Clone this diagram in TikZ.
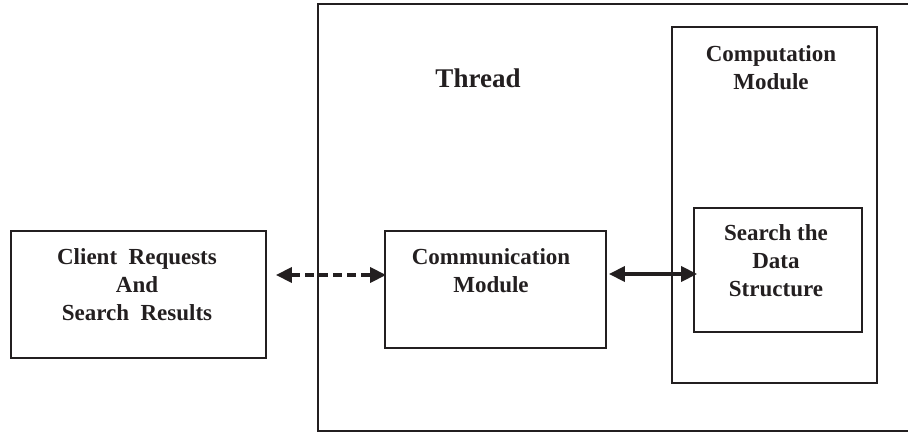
\documentclass[tikz,border=0pt]{standalone}
\usepackage{fontspec}
\setmainfont{Liberation Serif}
\usetikzlibrary{arrows.meta}

\definecolor{ink}{HTML}{231F20}

\tikzset{
  box/.style = {draw=ink, line width=1.8pt, inner sep=0pt, rectangle},
  title/.style = {text=ink, font=\bfseries\fontsize{23}{28}\selectfont, align=center, inner sep=0pt},
  link/.style = {draw=ink, line width=3.5pt,
                 {Triangle[length=16pt,width=15pt]}-{Triangle[length=16pt,width=15pt]}},
  dashlink/.style = {link, dash pattern=on 9pt off 5pt}
}

\begin{document}
\begin{tikzpicture}[x=1pt, y=-1pt]
  \useasboundingbox (0,0) rectangle (908,433);

  % outer thread box (right edge runs off the page)
  \node (thread) [box, minimum width=597pt, minimum height=427pt] at (616.5,217.5) {};
  \node (threadtext) [title, font=\bfseries\fontsize{27}{32}\selectfont] at (478,78) {Thread};

  % computation module with the search box inside
  \node (comp) [box, minimum width=205pt, minimum height=356pt] at (774.5,205) {};
  \node (comptext) [title] at (771,68) {Computation\\Module};
  \node (search) [box, minimum width=168pt, minimum height=124pt] at (778,270) {};
  \node (searchtext) [title] at (776,261) {Search the\\Data\\Structure};

  % client side
  \node (client) [box, minimum width=255pt, minimum height=127pt] at (138.5,294.5) {};
  \node (clienttext) [title] at (137,285) {Client~~Requests\\And\\Search~~Results};

  % communication module
  \node (comm) [box, minimum width=221pt, minimum height=117pt] at (495.5,289.5) {};
  \node (commtext) [title] at (491,271) {Communication\\Module};

  \draw [dashlink] ([xshift=9pt,yshift=19.5pt]client.east) -- ([xshift=2pt,yshift=14.5pt]comm.west);
  \draw [link] ([xshift=2pt,yshift=15.5pt]comm.east) -- ([xshift=4pt,yshift=-4pt]search.west);
\end{tikzpicture}
\end{document}
